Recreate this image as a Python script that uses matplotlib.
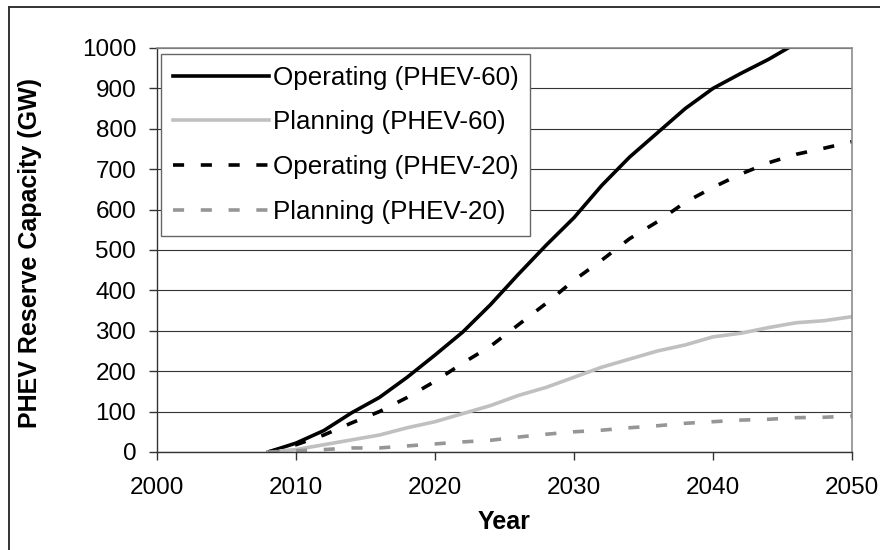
import matplotlib
matplotlib.use('Agg')
import matplotlib.pyplot as plt
from matplotlib.lines import Line2D

plt.rcParams['font.family'] = ['Liberation Sans', 'DejaVu Sans']
plt.rcParams['lines.scale_dashes'] = False

# data
years = [2008, 2010, 2012, 2014, 2016, 2018, 2020, 2022, 2024, 2026, 2028,
         2030, 2032, 2034, 2036, 2038, 2040, 2042, 2044, 2046, 2048, 2050]
oper60 = [0, 22, 53, 97, 135, 185, 240, 297, 365, 440, 512,
          580, 660, 730, 790, 850, 900, 937, 972, 1012, 1050, 1090]
plan60 = [0, 6, 18, 30, 42, 60, 75, 95, 115, 140, 160,
          185, 210, 230, 250, 265, 285, 294, 308, 320, 325, 335]
oper20 = [0, 18, 42, 72, 100, 135, 175, 220, 262, 315, 368,
          425, 475, 528, 570, 618, 655, 688, 716, 737, 752, 768]
plan20 = [0, 3, 6, 10, 10, 15, 20, 25, 29, 37, 44,
          50, 54, 60, 65, 71, 75, 79, 81, 85, 86, 89]
labels = ['Operating (PHEV-60)', 'Planning (PHEV-60)',
          'Operating (PHEV-20)', 'Planning (PHEV-20)']
xticks = [2000, 2010, 2020, 2030, 2040, 2050]
yticks = list(range(0, 1001, 100))

fig = plt.figure(figsize=(8.8, 5.5), dpi=100)
ax = fig.add_axes([157/880, 1-452/550, 695/880, 404/550])

lw = 2.6
dash = (8, 12)
ax.plot(years, oper60, color='black', lw=lw, label=labels[0])
ax.plot(years, plan60, color='#c0c0c0', lw=lw, label=labels[1])
ax.plot(years, oper20, color='black', lw=lw, dashes=dash, label=labels[2])
ax.plot(years, plan20, color='#969696', lw=lw, dashes=dash, label=labels[3])

ax.set_xlim(2000, 2050)
ax.set_ylim(0, 1000)
ax.set_xticks(xticks)
ax.set_yticks(yticks)
ax.tick_params(axis='both', labelsize=17.5, direction='out', length=6,
               width=1, color='#333333')
ax.tick_params(axis='x', pad=12)
ax.tick_params(axis='y', pad=9)
ax.yaxis.grid(True, color='#333333', lw=0.8)
ax.set_axisbelow(True)
for s in ['left', 'bottom']:
    ax.spines[s].set_color('#333333')
    ax.spines[s].set_linewidth(1)
for s in ['top', 'right']:
    ax.spines[s].set_color('#8c8c8c')
    ax.spines[s].set_linewidth(1.2)

ax.set_xlabel('Year', fontsize=18, fontweight='bold')
ax.xaxis.set_label_coords(0.5, (452-522)/404)
ax.xaxis.label.set_va('center')
ax.set_ylabel('PHEV Reserve Capacity (GW)', fontsize=18, fontweight='bold')
ax.yaxis.set_label_coords((30-157)/695, (452-253)/404)
ax.yaxis.label.set_va('center')

leg = ax.legend(loc='upper left', bbox_to_anchor=(4/695, 1-6/404),
                borderaxespad=0, fontsize=18.7, handlelength=3.7,
                handletextpad=0.15, labelspacing=0.8, borderpad=0.45,
                fancybox=False, framealpha=1, edgecolor='#666666')
leg.get_frame().set_linewidth(1)

# outer chart border (runs off the right and bottom edges)
fig.add_artist(Line2D([8.5/880, 8.5/880], [0, 1-6.5/550], color='#333333', lw=1.4))
fig.add_artist(Line2D([8.5/880, 1], [1-6.5/550, 1-6.5/550], color='#333333', lw=1.4))

fig.savefig('out.png', dpi=100)
